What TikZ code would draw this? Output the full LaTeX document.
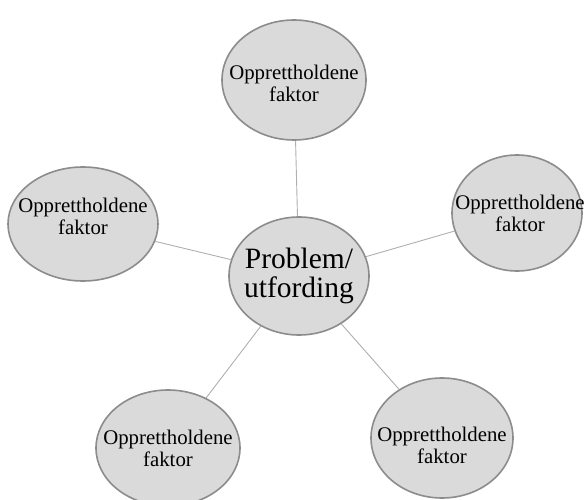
\documentclass[tikz,border=0pt]{standalone}
\usepackage{fontspec}
\setmainfont{Liberation Serif}
\usetikzlibrary{%
	positioning,
	shapes.geometric
}
\definecolor{bubblefill}{RGB}{218,218,218}
\definecolor{bubbleline}{RGB}{140,140,140}
\definecolor{spokeline}{RGB}{175,175,175}

\begin{document}
\begin{tikzpicture}[
		x=1pt,y=-1pt,
		bubble/.style={draw=bubbleline,line width=1.6pt,fill=bubblefill,shape=ellipse,inner sep=0pt},
		factor/.style={bubble,minimum width=144pt,minimum height=118pt},
		lbl/.style={align=center,inner sep=0pt,font=\fontsize{20.8}{22}\selectfont},
		spoke/.style={draw=spokeline,line width=0.9pt}
	]
	\useasboundingbox (0,0) rectangle (584,500);

		\node(prob) [bubble, minimum width=140pt, minimum height=118pt, label={[lbl,font=\fontsize{29.5}{29.5}\selectfont]center:Problem/\\utfording}] at (299,276) {};

		\node(f-top) [factor, minimum height=120pt, label={[lbl,yshift=-3pt]center:Opprettholdene\\faktor}] at (294,80) {};
		\node(f-left) [factor, minimum width=150pt, minimum height=114pt, label={[lbl,yshift=8pt]center:Opprettholdene\\faktor}] at (83,224) {};
		\node(f-right) [factor, minimum width=130pt, minimum height=116pt, label={[lbl,xshift=3pt]center:Opprettholdene\\faktor}] at (517,213) {};
		\node(f-bl) [factor, minimum height=116pt, label={[lbl]center:Opprettholdene\\faktor}] at (168,448) {};
		\node(f-br) [factor, minimum width=142pt, minimum height=120pt, label={[lbl,yshift=-7pt]center:Opprettholdene\\faktor}] at (442,438) {};

		%spokes
		\draw [spoke] (prob) -- (f-top);
		\draw [spoke] (prob) -- (f-left);
		\draw [spoke] (prob) -- (f-right);
		\draw [spoke] (prob) -- (f-bl);
		\draw [spoke] (prob) -- (f-br);

	\end{tikzpicture}
\end{document}
